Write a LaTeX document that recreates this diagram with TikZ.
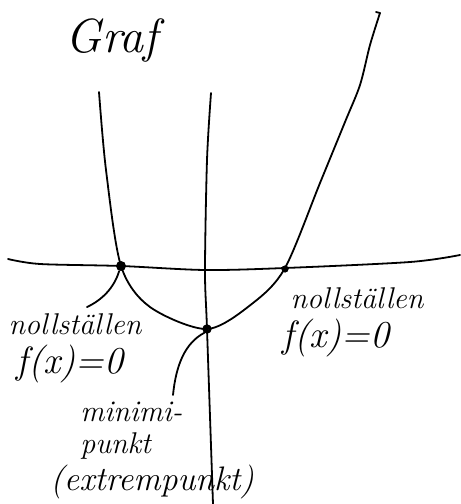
\documentclass[tikz,border=0pt]{standalone}
\usepackage{tikz}
\usetikzlibrary{positioning}

\begin{document}
\begin{tikzpicture}[
  x=0.5pt, y=-0.5pt,
  node distance=3pt and 0pt,
  pen/.style={line width=0.9pt, line cap=round, line join=round},
  dot/.style={circle, fill, inner sep=0pt, minimum size=5pt},
  ring/.style={circle, draw, line width=1.4pt, inner sep=0pt, minimum size=3.2pt},
  hand/.style={font=\itshape\fontsize{15}{16}\selectfont, inner sep=1pt},
  eq/.style={font=\itshape\fontsize{19}{20}\selectfont, inner sep=1pt}
]
\useasboundingbox (0,0) rectangle (461,504);

% title
\node[font=\itshape\fontsize{24}{26}\selectfont] (title) at (112,40) {Graf};

% axes
\draw[pen] plot[smooth] coordinates {(8,259) (40,264) (121,266) (205,270) (285,268) (410,262) (460,255)};
\draw[pen] plot[smooth] coordinates {(211,93) (207,160) (205,270) (207,329) (213,504)};

% graph
\draw[pen] plot[smooth] coordinates {(99,92) (106,170) (121,266) (150,307)
  (207,329) (253,303) (285,268) (320,183) (345,122) (360,85) (370,45) (380,13)};
\draw[pen] (380,13) -- (376,12);

% points
\node[dot] (zL) at (121,266) {};
\node[dot, minimum size=3.6pt] (zR) at (285,269) {};
\node[ring] (mn) at (207,329) {};

% labels
\node[hand] (nollL) at (75,324) {nollställen};
\node[eq, below=of nollL.south west, anchor=north west, xshift=4pt] (fxL) {f(x)=0};
\node[hand] (nollR) at (357,298) {nollställen};
\node[eq, below=of nollR.south west, anchor=north west, xshift=-4pt] (fxR) {f(x)=0};
\node[hand, align=left, anchor=north west] (minp) at (78,400) {minimi-\\punkt};
\node[hand, anchor=north west, font=\itshape\fontsize{17}{18}\selectfont] (ext) at (48,463) {(extrempunkt)};

% pointers
\coordinate (pL) at (87,307);
\coordinate (pM) at (173,395);
\draw[pen] (zL.-110) .. controls (114,288) and (102,300) .. (pL);
\draw[pen] (mn.-125) .. controls (185,343) and (176,365) .. (pM);
\end{tikzpicture}
\end{document}
